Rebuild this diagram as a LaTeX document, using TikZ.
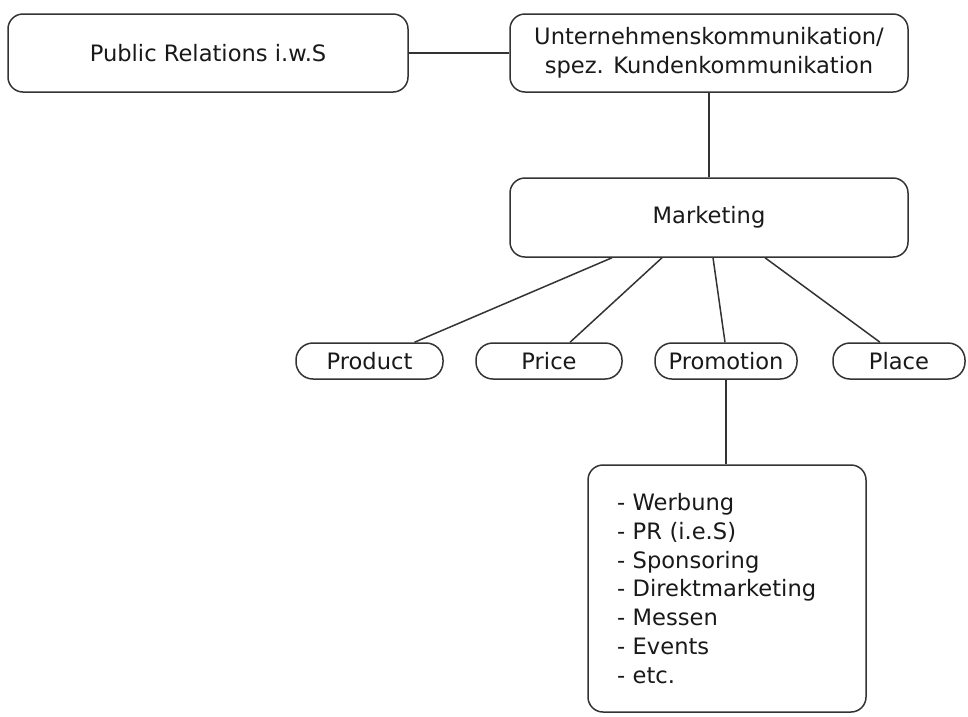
\documentclass[tikz,border=0pt]{standalone}
\usepackage{fontspec}
\setmainfont{DejaVu Sans}
\usetikzlibrary{positioning, calc}
\tikzset{
  orgchart/.style={
	x=1pt, y=1pt, % one unit is one pixel of the sketch
	line width=1.5pt, % grey outlines
	every node/.style={font=\fontsize{22.6}{28.7}\selectfont, text=black!90},
  },
  bigbox/.style={draw=black!80, rounded corners=15pt, minimum width=398pt, minimum height=78pt, align=center, inner sep=0pt},
  pill/.style={draw=black!80, rounded corners=17pt, minimum height=36pt, inner sep=0pt}, % round ends
  link/.style={draw=black!80},
}

\begin{document}
\begin{tikzpicture}[orgchart]
	  \useasboundingbox (0,0) rectangle (968,-716);
	  \node[bigbox, minimum width=400pt] at (208,-53) (pr) {Public Relations i.w.S};
	  \node[bigbox, right of=pr, node distance=501pt] (uk) {Unternehmenskommunikation/\\spez. Kundenkommunikation};
	  \node[bigbox, below of=uk, node distance=164.5pt, minimum height=79pt] (mk) {Marketing};
	  \node[pill, below of=mk, node distance=143.5pt, xshift=17pt, minimum width=142pt] (promo) {Promotion};
	  \node[pill, left of=promo, node distance=356.5pt, minimum width=147pt] (prod) {Product};
	  \node[pill, left of=promo, node distance=177pt, minimum width=146pt] (price) {Price};
	  \node[pill, right of=promo, node distance=173pt, minimum width=132pt] (place) {Place};
	  \node[bigbox, below of=promo, node distance=227.5pt, xshift=1pt, minimum width=278pt, minimum height=247pt, text width=220pt, align=left] (mix)
		  {- Werbung\\- PR (i.e.S)\\- Sponsoring\\- Direktmarketing\\- Messen\\- Events\\- etc.};
	  \draw[link] (pr) edge (uk)
		  (uk) edge (mk)
		  ([xshift=-97pt]mk.south) edge ([xshift=45pt]prod.north)
		  ([xshift=-47pt]mk.south) edge ([xshift=21pt]price.north)
		  ([xshift=4pt]mk.south) edge ([xshift=-1pt]promo.north)
		  ([xshift=56pt]mk.south) edge ([xshift=-19pt]place.north)
		  (promo.south) edge (promo.south |- mix.north)
	  ;
	  \end{tikzpicture}
\end{document}
